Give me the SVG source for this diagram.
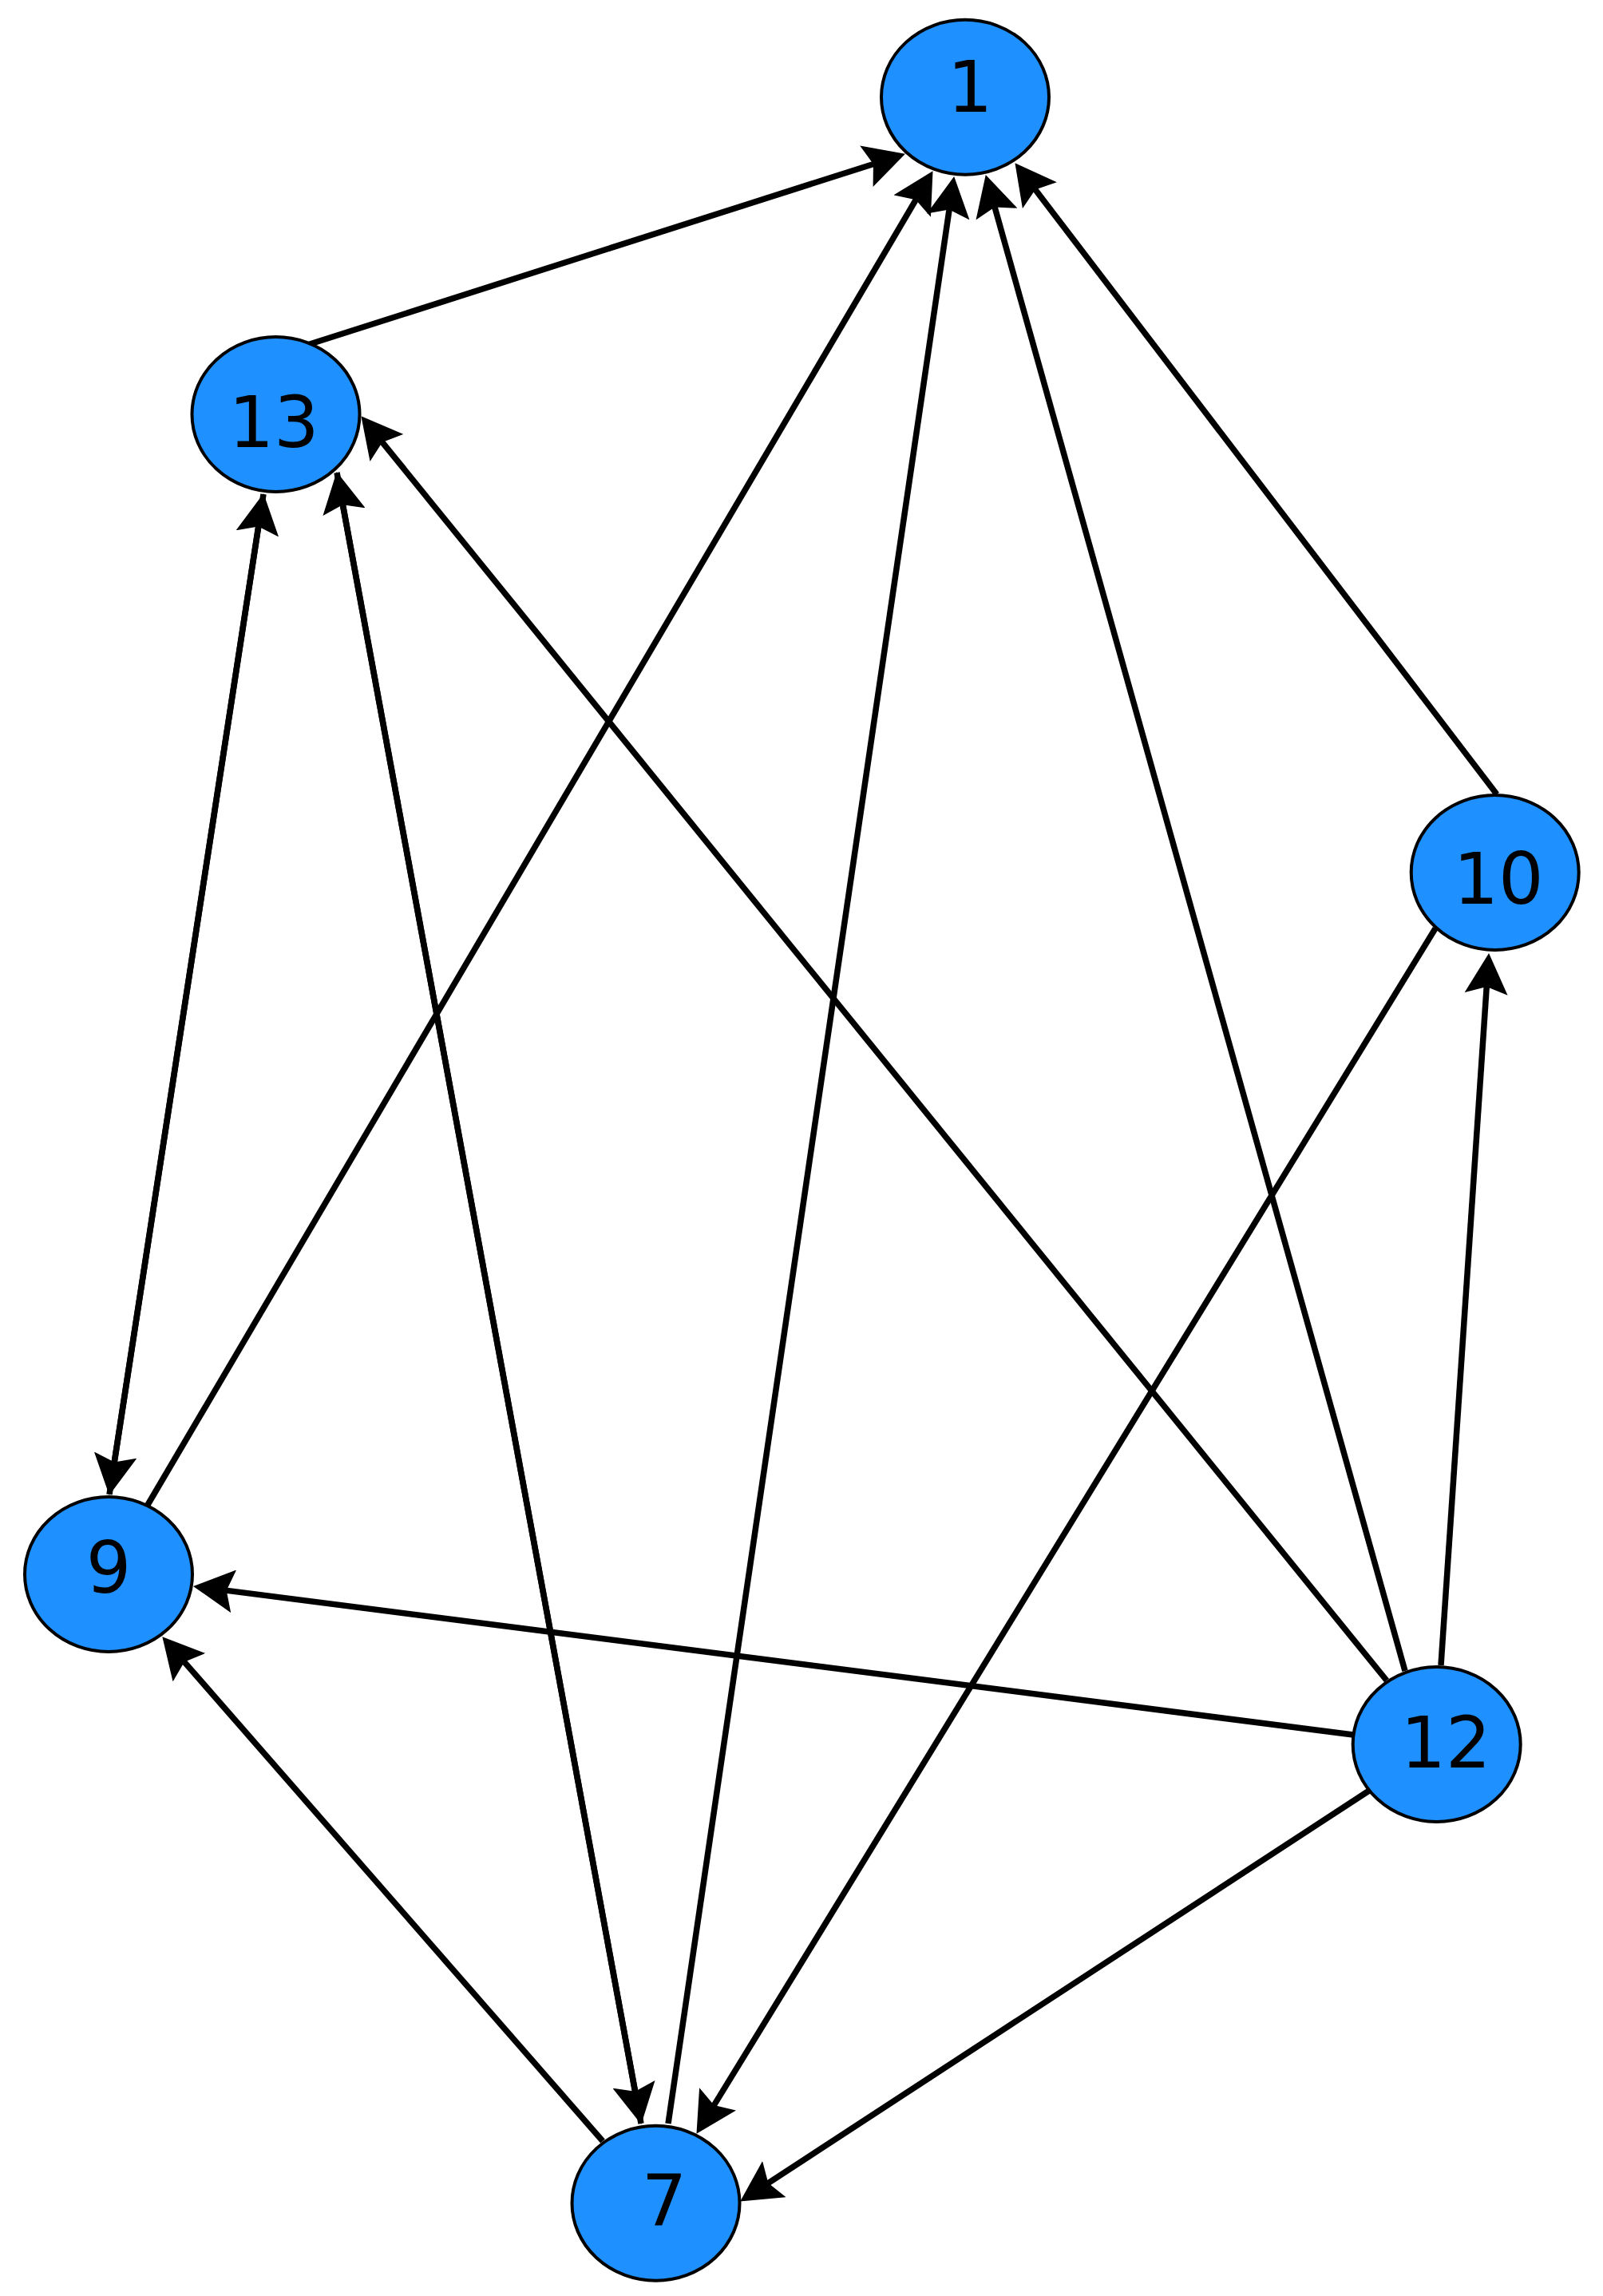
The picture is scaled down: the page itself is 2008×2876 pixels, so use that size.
<svg xmlns="http://www.w3.org/2000/svg" width="2008" height="2876" viewBox="0 0 2008 2876">
<style>
.edge{stroke:#000;stroke-width:7.5;fill:none;marker-end:url(#arr)}
.node ellipse{fill:#1e90ff;stroke:#000;stroke-width:4}
.node text{font-family:"DejaVu Sans","Liberation Sans",sans-serif;font-size:89px;fill:#000;text-anchor:middle}
</style>
<defs>
<marker id="arr" markerUnits="userSpaceOnUse" viewBox="0 0 51 54" markerWidth="51" markerHeight="54" refX="10" refY="27" orient="auto">
<path d="M51,27 L0,0 L9,27 L0,54 Z" fill="#000"/>
</marker>
</defs>
<rect width="2008" height="2876" fill="#fff"/>
<g id="connectors">
<line class="edge" x1="385" y1="432" x2="1094.9" y2="205.2"/>
<line class="edge" x1="185" y1="1885" x2="1147.7" y2="249.5"/>
<line class="edge" x1="837" y1="2660" x2="1189.2" y2="261.6"/>
<line class="edge" x1="1760" y1="2093" x2="1245.8" y2="258.5"/>
<line class="edge" x1="1875" y1="995" x2="1296.3" y2="236.8"/>
<line class="edge" x1="1737" y1="2105" x2="478.2" y2="553.1"/>
<line class="edge" x1="422" y1="592" x2="795.8" y2="2620.7"/>
<line class="edge" x1="803" y1="2660" x2="429.2" y2="631.3"/>
<line class="edge" x1="137" y1="1872" x2="323.9" y2="658.5"/>
<line class="edge" x1="330" y1="619" x2="143.1" y2="1832.5"/>
<line class="edge" x1="1798" y1="1163" x2="893.9" y2="2637.9"/>
<line class="edge" x1="1805" y1="2086" x2="1862.3" y2="1234.9"/>
<line class="edge" x1="1695" y1="2173" x2="282.7" y2="1992.1"/>
<line class="edge" x1="755" y1="2682" x2="230.3" y2="2081.1"/>
<line class="edge" x1="1715" y1="2243" x2="961.5" y2="2735.1"/>
</g>
<g id="node1" class="node"><ellipse cx="1209" cy="121.7" rx="105" ry="97"/><text x="1215" y="140">1</text></g>
<g id="node13" class="node"><ellipse cx="345.5" cy="519" rx="105" ry="97"/><text x="343" y="560">13</text></g>
<g id="node9" class="node"><ellipse cx="136" cy="1972" rx="105" ry="97"/><text x="136" y="1995">9</text></g>
<g id="node7" class="node"><ellipse cx="821.5" cy="2759.7" rx="105" ry="97"/><text x="832" y="2788">7</text></g>
<g id="node12" class="node"><ellipse cx="1799.7" cy="2185" rx="105" ry="97"/><text x="1811" y="2214">12</text></g>
<g id="node10" class="node"><ellipse cx="1872.7" cy="1093" rx="105" ry="97"/><text x="1877" y="1132">10</text></g>
</svg>
